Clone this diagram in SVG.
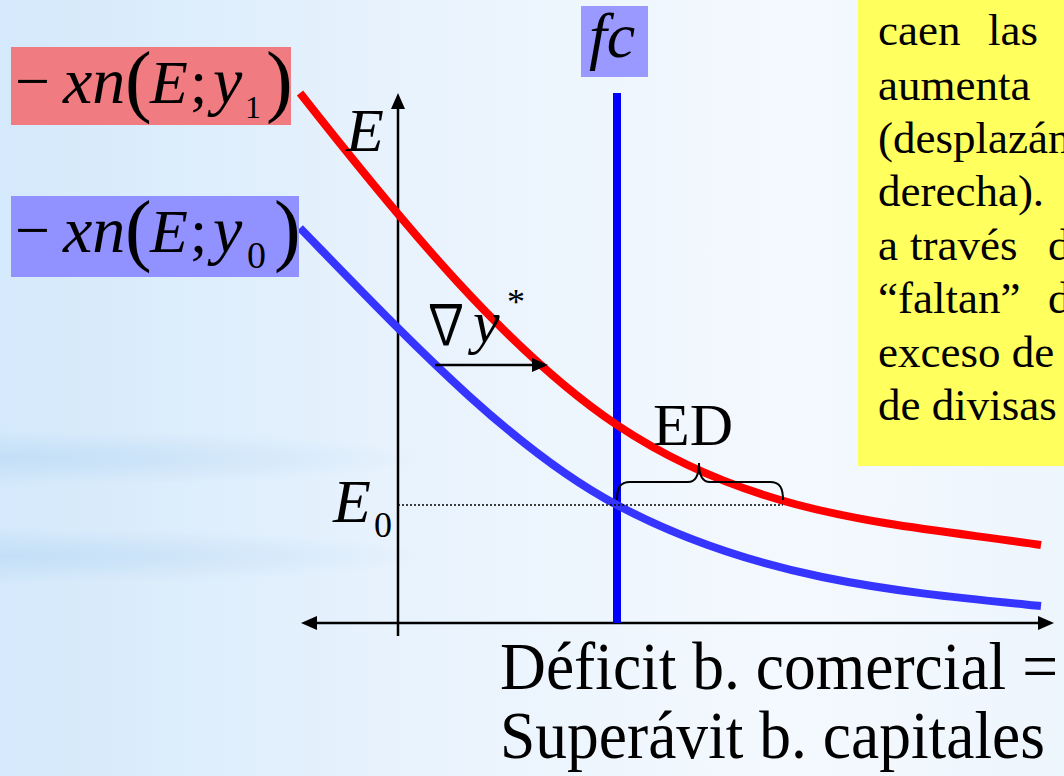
<svg xmlns="http://www.w3.org/2000/svg" width="1064" height="776" viewBox="0 0 1064 776">
<defs>
  <linearGradient id="bg" x1="0" y1="0" x2="1" y2="0">
    <stop offset="0" stop-color="#d4e9fb"/>
    <stop offset="0.4" stop-color="#e9f3fd"/>
    <stop offset="0.75" stop-color="#f4f9fe"/>
    <stop offset="1" stop-color="#edf5fd"/>
  </linearGradient>
  <radialGradient id="streak">
    <stop offset="0" stop-color="#bddbf5" stop-opacity="0.75"/>
    <stop offset="1" stop-color="#bddbf5" stop-opacity="0"/>
  </radialGradient>
  <marker id="ah" viewBox="0 0 16 14" refX="6" refY="7" markerWidth="16" markerHeight="14" markerUnits="userSpaceOnUse" orient="auto-start-reverse">
    <path d="M0,0 L16,7 L0,14 z" fill="#000"/>
  </marker>
</defs>
<style>
  .serif{font-family:"Liberation Serif","DejaVu Serif",serif;fill:#000}
  .it{font-style:italic}
  .note{font-size:45px}
  .curve{fill:none;stroke-width:8}
  .axis{stroke:#000;stroke-width:2.5;fill:none}
</style>

<g id="background">
  <rect x="0" y="0" width="1064" height="776" fill="url(#bg)"/>
  <ellipse cx="0" cy="458" rx="430" ry="28" fill="url(#streak)"/>
  <ellipse cx="0" cy="556" rx="430" ry="28" fill="url(#streak)"/>
</g>

<g id="axes">
  <line class="axis" x1="398" y1="636" x2="398" y2="103" marker-end="url(#ah)"/>
  <line class="axis" x1="311" y1="623" x2="1044" y2="623" marker-start="url(#ah)" marker-end="url(#ah)"/>
</g>

<g id="connectors">
  <line id="fc-line" x1="617" y1="93" x2="617" y2="623" stroke="#0000ff" stroke-width="8"/>
  <path id="curve-y1" class="curve" stroke="#ff0000" d="M300,93 C406,228 511,354 617,425 C758,519 900,524 1041,545"/>
  <path id="curve-y0" class="curve" stroke="#3535ff" d="M300,228 C406,337 511,449 617,505 C758,580 900,592 1041,606"/>
  <path id="e0-dotted" d="M398,505 H783" stroke="#000" stroke-width="1.3" stroke-dasharray="2 2" fill="none"/>
  <path id="ed-brace" d="M617,500 C617,488 620,482 630,482 L688,482 C695,482 699,476 699,463 C699,476 703,482 710,482 L770,482 C780,482 783,488 783,500" stroke="#000" stroke-width="2" fill="none"/>
  <line id="shift-arrow" class="axis" x1="435" y1="365" x2="538" y2="365" marker-end="url(#ah)"/>
</g>

<g id="label-xn-y1">
  <rect x="11" y="47" width="280" height="78" fill="#f07b81"/>
  <text class="serif" x="15" y="102" font-size="62">−</text>
  <text class="serif it" x="63" y="103" font-size="66">xn</text>
  <text class="serif" x="125" y="107" font-size="80">(</text>
  <text class="serif it" x="150" y="103" font-size="62">E</text>
  <text class="serif" x="190" y="103" font-size="62">;</text>
  <text class="serif it" x="213" y="103" font-size="66">y</text>
  <text class="serif" x="245" y="118" font-size="32">1</text>
  <text class="serif" x="266" y="107" font-size="80">)</text>
</g>

<g id="label-xn-y0">
  <rect x="11" y="196" width="288" height="81" fill="#9191ff"/>
  <text class="serif" x="15" y="251" font-size="62">−</text>
  <text class="serif it" x="63" y="252" font-size="66">xn</text>
  <text class="serif" x="125" y="256" font-size="80">(</text>
  <text class="serif it" x="150" y="252" font-size="62">E</text>
  <text class="serif" x="190" y="252" font-size="62">;</text>
  <text class="serif it" x="213" y="252" font-size="66">y</text>
  <text class="serif" x="247" y="268" font-size="38">0</text>
  <text class="serif" x="274" y="256" font-size="80">)</text>
</g>

<g id="label-fc">
  <rect x="581" y="6" width="67" height="71" fill="#9999ff"/>
  <text class="serif it" x="589" y="57" font-size="64">fc</text>
</g>

<g id="label-E">
  <text class="serif it" x="346" y="151" font-size="62">E</text>
</g>

<g id="label-E0">
  <text class="serif it" x="333" y="522" font-size="62">E</text>
  <text class="serif" x="374" y="537" font-size="36">0</text>
</g>

<g id="label-shift">
  <text x="423" y="344" font-size="56" font-family="'Noto Sans CJK JP', 'DejaVu Serif', serif" textLength="46" lengthAdjust="spacingAndGlyphs">∇</text>
  <text class="serif it" x="473" y="342" font-size="60">y</text>
  <text class="serif" x="507" y="314" font-size="36">*</text>
</g>

<g id="label-ED">
  <text class="serif" x="653" y="445" font-size="60">ED</text>
</g>

<g id="note">
  <rect x="858" y="0" width="206" height="466" fill="#ffff5e"/>
  <text class="serif note" x="878" y="45">caen</text>
  <text class="serif note" x="988" y="45">las</text>
  <text class="serif note" x="878" y="100">aumenta</text>
  <text class="serif note" x="878" y="153">(desplazán</text>
  <text class="serif note" x="878" y="206">derecha).</text>
  <text class="serif note" x="878" y="260">a</text>
  <text class="serif note" x="910" y="260">través</text>
  <text class="serif note" x="1048" y="260">d</text>
  <text class="serif note" x="878" y="313">“faltan”</text>
  <text class="serif note" x="1048" y="313">d</text>
  <text class="serif note" x="878" y="367">exceso de</text>
  <text class="serif note" x="878" y="420">de divisas</text>
</g>

<g id="axis-title">
  <text class="serif" x="500" y="689" font-size="68" textLength="558" lengthAdjust="spacingAndGlyphs">Déficit b. comercial =</text>
  <text class="serif" x="500" y="758" font-size="68" textLength="545" lengthAdjust="spacingAndGlyphs">Superávit b. capitales</text>
</g>
</svg>
